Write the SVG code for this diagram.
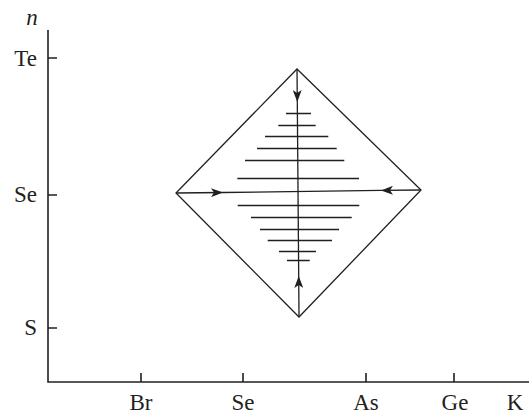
<svg xmlns="http://www.w3.org/2000/svg" width="530" height="415" viewBox="0 0 530 415">
<style>
.ax{stroke:#231f20;stroke-width:1.6;fill:none}
.ln{stroke:#231f20;stroke-width:1.3;fill:none}
.h{stroke:#231f20;stroke-width:1.3}
.t{font-family:"Liberation Serif","Times New Roman",serif;font-size:23px;fill:#231f20}
</style>
<defs>
<marker id="ah" viewBox="0 0 12 9" refX="12" refY="4.5" markerWidth="12" markerHeight="9" markerUnits="userSpaceOnUse" orient="auto">
<path d="M0,0 L12,4.5 L0,9 L3,4.5 Z" fill="#231f20"/>
</marker>
</defs>
<g id="axes">
<path class="ax" d="M48,30 V382 H529"/>
<path class="ax" d="M48,58 H57 M48,195 H57 M48,328 H57"/>
<path class="ax" d="M141,382 V373 M243,382 V373 M366,382 V373 M454,382 V373"/>
<text class="t" x="32" y="25" font-style="italic" text-anchor="middle">n</text>
<text class="t" x="37" y="66" text-anchor="end">Te</text>
<text class="t" x="37" y="202" text-anchor="end">Se</text>
<text class="t" x="37" y="335" text-anchor="end">S</text>
<text class="t" x="141" y="410" text-anchor="middle">Br</text>
<text class="t" x="243" y="410" text-anchor="middle">Se</text>
<text class="t" x="366" y="410" text-anchor="middle">As</text>
<text class="t" x="455" y="410" text-anchor="middle">Ge</text>
<text class="t" x="515" y="410" text-anchor="middle">K</text>
</g>
<g id="diamond">
<path class="ln" d="M297,69 L421,190 L299,317 L176,193 Z"/>
</g>
<g id="hatch">
<path class="h" d="M286,113.5H311 M278.3,125.5H315.7 M265,136.5H328.3 M257,148.5H336.7 M245,160.5H344.3 M237.3,178.5H359 M237.7,205.5H359.3 M251,217.5H351.7 M260,229.5H339 M267.7,240.5H332 M279,251.5H316 M287,260.5H309.7"/>
</g>
<g id="connectors">
<line class="ln" x1="297" y1="69" x2="297.3" y2="102" marker-end="url(#ah)"/>
<line class="ln" x1="297.3" y1="102" x2="298.7" y2="276"/>
<line class="ln" x1="299" y1="317" x2="298.7" y2="276" marker-end="url(#ah)"/>
<line class="ln" x1="176" y1="193" x2="223" y2="192.5" marker-end="url(#ah)"/>
<line class="ln" x1="223" y1="192.5" x2="381" y2="190.4"/>
<line class="ln" x1="421" y1="190" x2="381" y2="190.4" marker-end="url(#ah)"/>
</g>
</svg>
